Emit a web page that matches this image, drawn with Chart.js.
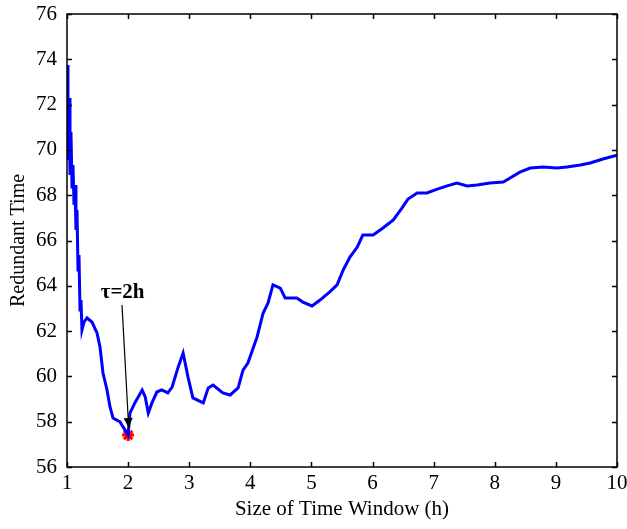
<!DOCTYPE html>
<html>
<head>
<meta charset="utf-8">
<script src="https://cdn.jsdelivr.net/npm/chart.js@4.4.1/dist/chart.umd.min.js"></script>
<style>
  html, body { margin: 0; padding: 0; background: #fff; }
  #wrap { width: 627px; height: 529px; }
</style>
</head>
<body>
<div id="wrap"><canvas id="c" width="627" height="529"></canvas></div>
<script>
// ---- data ----
const windowSize = [1.008, 1.016, 1.033, 1.049, 1.065, 1.082, 1.098, 1.115, 1.131, 1.147, 1.164, 1.180, 1.196, 1.213, 1.229, 1.245,
  1.278, 1.327, 1.409, 1.491, 1.540, 1.589, 1.655, 1.704, 1.753, 1.867, 1.949, 2.00,
  2.03, 2.11, 2.23, 2.28, 2.33, 2.39, 2.47, 2.55, 2.65, 2.72, 2.82, 2.90, 2.98, 3.06, 3.23, 3.31, 3.39, 3.55, 3.67, 3.80, 3.88, 3.96,
  4.11, 4.21, 4.29, 4.37, 4.49, 4.57, 4.76, 4.86, 5.01, 5.14, 5.30, 5.42, 5.52, 5.63, 5.75, 5.84, 6.01, 6.17, 6.34, 6.48, 6.58,
  6.73, 6.89, 7.06, 7.22, 7.38, 7.55, 7.71, 7.92, 8.14, 8.25, 8.41, 8.58, 8.79, 9.02, 9.18, 9.40, 9.56, 9.77, 10.0];
const redundantTime = [73.75, 69.55, 72.29, 68.89, 70.79, 68.36, 69.33, 67.57, 68.45, 66.46, 67.35, 64.70, 65.36, 62.93, 63.37, 62.05,
  62.40, 62.58, 62.40, 61.92, 61.30, 60.15, 59.40, 58.65, 58.16, 57.99, 57.63, 57.41,
  58.38, 58.83, 59.40, 59.09, 58.38, 58.83, 59.31, 59.40, 59.27, 59.53, 60.42, 61.03, 59.97, 59.05, 58.83, 59.49, 59.62, 59.27, 59.18, 59.49, 60.28, 60.59,
  61.74, 62.80, 63.24, 64.04, 63.90, 63.46, 63.46, 63.28, 63.11, 63.37, 63.73, 64.04, 64.70, 65.27, 65.71, 66.24, 66.24, 66.55, 66.91, 67.43, 67.83,
  68.10, 68.10, 68.27, 68.41, 68.54, 68.41, 68.45, 68.54, 68.58, 68.76, 69.02, 69.20, 69.25, 69.20, 69.25, 69.33, 69.42, 69.60, 69.77];
const optimumX = [2.0];
const optimumY = [57.41];
const xTicks = [1, 2, 3, 4, 5, 6, 7, 8, 9, 10];
const yTicks = [56, 58, 60, 62, 64, 66, 68, 70, 72, 74, 76];
const xTitle = 'Size of Time Window (h)';
const yTitle = 'Redundant Time';
const annotationText = 'τ=2h';
const annotationTextAt = [1.91, 63.68];
const arrowFrom = [1.90, 63.15];
const arrowTo = [2.01, 57.72];

const serif = '"Liberation Serif", "DejaVu Serif", serif';

const frameAndAnnotation = {
  id: 'frameAndAnnotation',
  afterDatasetsDraw(chart) {
    const ctx = chart.ctx;
    const xs = chart.scales.x, ys = chart.scales.y;
    const a = chart.chartArea;
    ctx.save();
    ctx.strokeStyle = '#000';
    ctx.lineWidth = 1.5;
    ctx.strokeRect(a.left, a.top, a.right - a.left, a.bottom - a.top);
    const tl = 5;
    ctx.beginPath();
    xTicks.forEach(v => {
      const p = Math.round(xs.getPixelForValue(v)) + 0.5;
      ctx.moveTo(p, a.bottom); ctx.lineTo(p, a.bottom - tl);
      ctx.moveTo(p, a.top); ctx.lineTo(p, a.top + tl);
    });
    yTicks.forEach(v => {
      const p = Math.round(ys.getPixelForValue(v)) + 0.5;
      ctx.moveTo(a.left, p); ctx.lineTo(a.left + tl, p);
      ctx.moveTo(a.right, p); ctx.lineTo(a.right - tl, p);
    });
    ctx.stroke();
    const x0 = xs.getPixelForValue(arrowFrom[0]), y0 = ys.getPixelForValue(arrowFrom[1]);
    const x1 = xs.getPixelForValue(arrowTo[0]), y1 = ys.getPixelForValue(arrowTo[1]);
    ctx.lineWidth = 1.2;
    ctx.beginPath(); ctx.moveTo(x0, y0); ctx.lineTo(x1, y1); ctx.stroke();
    const ang = Math.atan2(y1 - y0, x1 - x0);
    const hl = 10, hw = 4.5;
    ctx.fillStyle = '#000';
    ctx.beginPath();
    ctx.moveTo(x1, y1);
    ctx.lineTo(x1 - hl * Math.cos(ang) + hw * Math.sin(ang), y1 - hl * Math.sin(ang) - hw * Math.cos(ang));
    ctx.lineTo(x1 - hl * Math.cos(ang) - hw * Math.sin(ang), y1 - hl * Math.sin(ang) + hw * Math.cos(ang));
    ctx.closePath(); ctx.fill();
    ctx.font = 'bold 21px ' + serif;
    ctx.textAlign = 'center';
    ctx.textBaseline = 'middle';
    ctx.fillText(annotationText, xs.getPixelForValue(annotationTextAt[0]), ys.getPixelForValue(annotationTextAt[1]));
    ctx.restore();
  }
};

new Chart(document.getElementById('c'), {
  type: 'line',
  data: {
    datasets: [
      {
        data: windowSize.map((x, i) => ({ x, y: redundantTime[i] })),
        borderColor: '#0000ff',
        borderWidth: 3,
        pointRadius: 0,
        tension: 0,
        fill: false
      },
      {
        data: optimumX.map((x, i) => ({ x, y: optimumY[i] })),
        showLine: false,
        pointStyle: 'star',
        pointRadius: 6,
        borderColor: '#ff0000',
        backgroundColor: '#ff0000',
        pointBorderWidth: 3
      }
    ]
  },
  options: {
    responsive: false,
    animation: false,
    layout: { padding: { top: 14, right: 10, left: 0, bottom: 0 } },
    plugins: { legend: { display: false }, tooltip: { enabled: false } },
    scales: {
      x: {
        type: 'linear', min: 1, max: 10,
        afterBuildTicks: s => { s.ticks = xTicks.map(v => ({ value: v })); },
        afterFit: s => { s.height = 62; s.paddingLeft = 0; s.paddingRight = 0; },
        grid: { display: false, drawTicks: false },
        border: { display: false },
        ticks: { color: '#000', padding: 4, maxRotation: 0, font: { family: serif, size: 21 } },
        title: { display: true, text: xTitle, color: '#000', padding: { top: 0, bottom: 7 }, font: { family: serif, size: 21 } }
      },
      y: {
        type: 'linear', min: 56, max: 76,
        afterBuildTicks: s => { s.ticks = yTicks.map(v => ({ value: v })); },
        afterFit: s => { s.width = 67; s.paddingTop = 0; s.paddingBottom = 0; },
        grid: { display: false, drawTicks: false },
        border: { display: false },
        ticks: { color: '#000', padding: 10, font: { family: serif, size: 21 } },
        title: { display: true, text: yTitle, color: '#000', padding: { top: 7, bottom: 0 }, font: { family: serif, size: 20 } }
      }
    }
  },
  plugins: [frameAndAnnotation]
});
</script>
</body>
</html>
